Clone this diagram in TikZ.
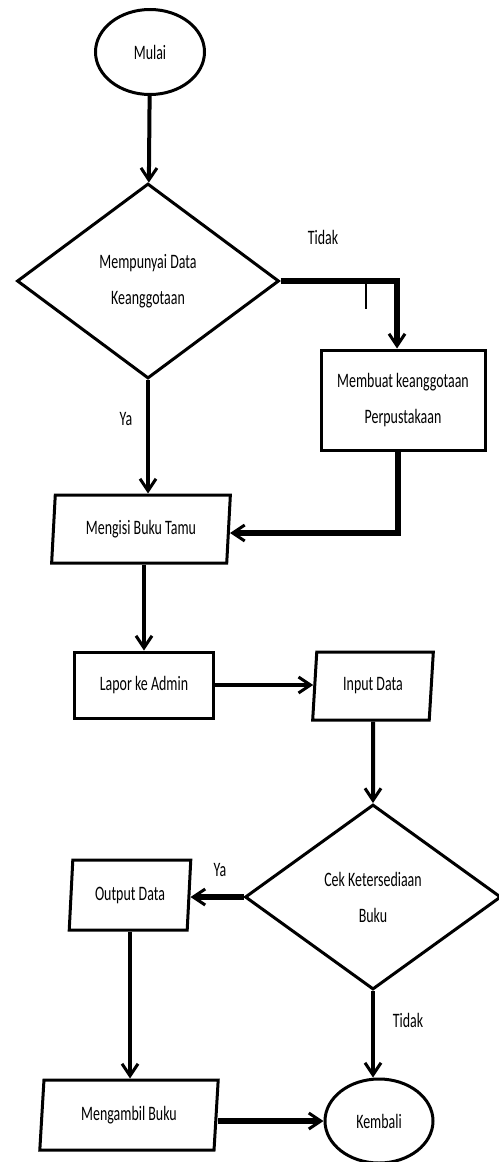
\documentclass[tikz,border=0pt]{standalone}
\usepackage{fontspec}
\setmainfont{Carlito}
\usetikzlibrary{shapes.geometric,arrows.meta,calc}
\newcommand\sq[1]{\scalebox{0.68}[1]{#1}}
\begin{document}
\begin{tikzpicture}[x=1pt,y=-1pt,
  base/.style={draw, line width=3pt, inner sep=0pt, font=\fontsize{20.5}{36}\selectfont, align=center},
  term/.style={base, ellipse, minimum width=109pt, minimum height=85pt},
  dec/.style={base, diamond, minimum width=262pt, minimum height=195pt},
  proc/.style={base, rectangle},
  io/.style={base, trapezium, trapezium left angle=82.5, trapezium right angle=97.5, trapezium stretches=true},
  conn/.style={line width=4pt, -{Straight Barb[length=12pt,width=16pt,line width=3pt]}},
  thick conn/.style={conn, line width=6pt},
  lbl/.style={font=\fontsize{20.5}{23}\selectfont, inner sep=0pt}]
\useasboundingbox (0,0) rectangle (498,1162);
\node[term] (mulai) at (150,52) {\sq{Mulai}};
\node[dec] (d1) at (148,281) {\sq{Mempunyai Data}\\\sq{Keanggotaan}};
\node[proc, minimum width=164pt, minimum height=100pt] (buat) at (403,400) {\sq{Membuat keanggotaan}\\\sq{Perpustakaan}};
\node[io, minimum width=179pt, minimum height=68pt] (isi) at (141,529) {\sq{Mengisi Buku Tamu}};
\node[proc, minimum width=139pt, minimum height=66pt] (lapor) at (144,685) {\sq{Lapor ke Admin}};
\node[io, minimum width=121pt, minimum height=68pt] (input) at (373,686) {\sq{Input Data}};
\node[dec, minimum width=256pt, minimum height=185pt] (d2) at (373,897) {\sq{Cek Ketersediaan}\\\sq{Buku}};
\node[io, minimum width=122pt, minimum height=70pt] (out) at (130,895) {\sq{Output Data}};
\node[io, minimum width=180pt, minimum height=70pt] (ambil) at (129,1115) {\sq{Mengambil Buku}};
\node[term, minimum width=108pt, minimum height=84pt] (kembali) at (379,1121) {\sq{Kembali}};
\node[lbl] (t1) at (323,237) {\sq{Tidak}};
\node[lbl] (y1) at (126,419) {\sq{Ya}};
\node[lbl] (y2) at (220,870) {\sq{Ya}};
\node[lbl] (t2) at (408,1020) {\sq{Tidak}};
\coordinate (bn) at ($(buat.north)+(-6,0)$);
\coordinate (bs) at ($(buat.south)+(-5,0)$);
\coordinate (tick) at ($(d1.east)+(85,0)$);
\draw[conn] (mulai) -- (d1);
\draw[thick conn] (d1.east) -| (bn);
\draw[line width=2pt] (tick) -- ++(0,28);
\draw[conn] (d1.south) -- (isi.north -| d1.south);
\draw[thick conn] (bs) |- ($(isi.east)+(0,4)$);
\draw[conn] (isi.south -| lapor.north) -- (lapor.north);
\draw[conn] (lapor.east) -- (lapor.east -| input.west);
\draw[conn] (input.south) -- (d2.north);
\draw[thick conn] (d2.west) -- (d2.west -| out.east);
\draw[conn] (out.south) -- (ambil.north -| out.south);
\draw[conn] (d2.south) -- (d2.south |- kembali.north);
\draw[thick conn] (ambil.east |- kembali.west) -- (kembali.west);
\end{tikzpicture}
\end{document}
